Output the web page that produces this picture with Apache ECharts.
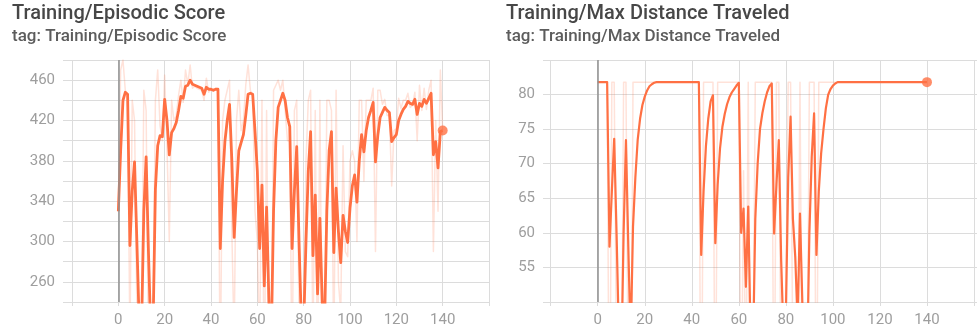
<!DOCTYPE html>
<html>
<head>
<meta charset="utf-8">
<script src="https://cdn.jsdelivr.net/npm/echarts@6/dist/echarts.min.js"></script>
<style>
  html, body { margin: 0; padding: 0; background: #ffffff; }
  #chart { width: 977px; height: 332px; }
</style>
</head>
<body>
<div id="chart"></div>
<script>
// Training steps 0..140 (one logged value per step)
const steps = Array.from({ length: 141 }, (_, i) => i);

// Training/Episodic Score — raw values per step
const scoreRaw = [
  330, 470, 480, 450, 445, 200, 440, 420, 230, 150,
  200, 450, 430, 180, 150, 220, 440, 470, 415, 400,
  465, 395, 300, 440, 420, 425, 445, 460, 438, 470,
  456, 475, 452, 454, 452, 451, 450, 440, 462, 448,
  451, 449, 452, 451, 160, 420, 440, 450, 460, 310,
  200, 420, 450, 410, 420, 455, 475, 450, 445, 330,
  300, 190, 440, 140, 430, 150, 130, 450, 455, 460,
  450, 460, 430, 400, 400, 160, 430, 440, 220, 130,
  200, 380, 440, 450, 190, 430, 150, 440, 170, 180,
  440, 440, 430, 180, 450, 260, 230, 395, 290, 285,
  380, 390, 380, 300, 440, 440, 360, 440, 440, 440,
  452, 290, 450, 450, 436, 441, 425, 425, 355, 410,
  412, 442, 432, 440, 440, 447, 433, 435, 448, 400,
  455, 430, 452, 431, 450, 460, 290, 420, 330, 470,
  410
];

// Training/Episodic Score — smoothed curve per step
const scoreSmooth = [
  330, 390, 440, 448, 446, 296, 350, 379, 300, 220,
  210, 330, 384, 290, 210, 215, 352, 395, 405, 404,
  441, 420, 386, 408, 412, 418, 430, 444, 442, 454,
  455, 460, 456, 455, 454, 453, 452, 446, 453, 451,
  451, 450, 451, 451, 293, 360, 399, 420, 436, 380,
  304, 350, 390, 398, 406, 425, 446, 447, 446, 409,
  370, 293, 356, 256, 334, 240, 200, 330, 400, 433,
  440, 447, 440, 423, 414, 293, 350, 394, 300, 220,
  215, 300, 370, 409, 286, 346, 248, 323, 240, 215,
  330, 390, 409, 289, 353, 310, 279, 326, 310, 299,
  333, 355, 366, 339, 380, 406, 389, 410, 423, 430,
  438, 379, 405, 423, 428, 433, 430, 428, 399, 403,
  406, 420, 426, 431, 434, 439, 437, 436, 441, 426,
  437, 434, 441, 437, 442, 447, 386, 399, 373, 409,
  410
];

// Training/Max Distance Traveled — raw values per step
const distRaw = [
  81.8, 81.8, 81.8, 81.8, 81.8, 22, 81.8, 81.8, 40, 20,
  30, 81.8, 81.8, 35, 20, 81.8, 81.8, 81.8, 81.8, 81.8,
  81.8, 81.8, 81.8, 81.8, 81.8, 81.8, 81.8, 81.8, 81.8, 81.8,
  81.8, 81.8, 81.8, 81.8, 81.8, 81.8, 81.8, 81.8, 81.8, 81.8,
  81.8, 81.8, 81.8, 81.8, 20, 81.8, 81.8, 81.8, 81.8, 81.8,
  26, 81.8, 81.8, 81.8, 81.8, 81.8, 81.8, 81.8, 81.8, 81.8,
  81.8, 28, 69, 35, 81.8, 18, 38, 81.8, 81.8, 81.8,
  81.8, 81.8, 81.8, 81.8, 81.8, 27, 81.8, 81.8, 30, 28,
  52, 81.8, 81.8, 40, 48, 32, 81.8, 32, 35, 34,
  81.8, 81.8, 81.8, 26, 81.8, 81.8, 81.8, 81.8, 81.8, 81.8,
  81.8, 81.8, 81.8, 81.8, 81.8, 81.8, 81.8, 81.8, 81.8, 81.8,
  81.8, 81.8, 81.8, 81.8, 81.8, 81.8, 81.8, 81.8, 81.8, 81.8,
  81.8, 81.8, 81.8, 81.8, 81.8, 81.8, 81.8, 81.8, 81.8, 81.8,
  81.8, 81.8, 81.8, 81.8, 81.8, 81.8, 81.8, 81.8, 81.8, 81.8,
  81.8
];

// Training/Max Distance Traveled — smoothed curve per step
const distSmooth = [
  81.8, 81.8, 81.8, 81.8, 81.8, 58.0, 66.0, 73.6, 60.0, 45.0,
  40.0, 60.0, 73.4, 58.0, 44.0, 60.9, 68.0, 73.5, 76.5, 78.5,
  79.7, 80.6, 81.2, 81.5, 81.7, 81.8, 81.8, 81.8, 81.8, 81.8,
  81.8, 81.8, 81.8, 81.8, 81.8, 81.8, 81.8, 81.8, 81.8, 81.8,
  81.8, 81.8, 81.8, 81.8, 56.8, 66.0, 72.5, 76.5, 79.0, 79.9,
  58.5, 67.0, 72.2, 75.3, 77.2, 78.6, 79.6, 80.3, 80.8, 81.3,
  81.7, 60.0, 63.5, 52.2, 63.8, 45.0, 42.0, 62.0, 70.0, 75.0,
  77.3, 79.0, 80.3, 81.2, 81.6, 59.9, 67.0, 73.4, 56.0, 45.0,
  48.0, 68.0, 76.8, 62.0, 56.5, 47.0, 62.8, 50.0, 44.0, 40.0,
  60.0, 71.0, 77.3, 56.8, 66.0, 71.5, 75.0, 78.0, 80.0, 80.8,
  81.3, 81.6, 81.8, 81.8, 81.8, 81.8, 81.8, 81.8, 81.8, 81.8,
  81.8, 81.8, 81.8, 81.8, 81.8, 81.8, 81.8, 81.8, 81.8, 81.8,
  81.8, 81.8, 81.8, 81.8, 81.8, 81.8, 81.8, 81.8, 81.8, 81.8,
  81.8, 81.8, 81.8, 81.8, 81.8, 81.8, 81.8, 81.8, 81.8, 81.8,
  81.8
];

// Axis tick values
const xTicks = [-20, 0, 20, 40, 60, 80, 100, 120, 140, 160];
const scoreTicks = [260, 300, 340, 380, 420, 460];
const distTicks = [55, 60, 65, 70, 75, 80];

const ORANGE = '#ff7043';
const RAW = 'rgba(255,112,67,0.2)';
const GRID = '#dcdcdc';
const LABEL = '#9e9e9e';
const FONT = 'Roboto';

const pairs = (vals) => vals.map((v, i) => [steps[i], v]);

const chart = echarts.init(document.getElementById('chart'), null, { renderer: 'canvas' });

// Each panel: a background grid (horizontal rules + y labels) and a data grid (x axis + lines)
const grids = [
  { left: 63, top: 60, width: 426, height: 242 },     // score background
  { left: 72, top: 60, width: 417, height: 242 },     // score data
  { left: 543, top: 60, right: 0, height: 242 },      // distance background
  { left: 550.7, top: 60, width: 434.5, height: 242 } // distance data
];

function bgX(gi) {
  return { gridIndex: gi, type: 'value', min: 0, max: 1, show: false };
}
function dataX(gi) {
  return {
    gridIndex: gi, type: 'value', min: xTicks[0], max: xTicks[xTicks.length - 1], interval: 20,
    axisLine: { show: false },
    axisTick: { show: true, length: 4, lineStyle: { color: GRID } },
    splitLine: { show: true, lineStyle: { color: GRID, width: 1 } },
    axisLabel: {
      color: LABEL, fontFamily: FONT, fontSize: 15, margin: 11,
      formatter: (v) => (v >= 0 && v <= 140 ? String(v) : '')
    }
  };
}
function bgY(gi, min, max, interval, labels) {
  return {
    gridIndex: gi, type: 'value', min, max, interval,
    axisLine: { show: false }, axisTick: { show: false },
    splitLine: { show: true, lineStyle: { color: GRID, width: 1 } },
    axisLabel: {
      color: LABEL, fontFamily: FONT, fontSize: 15, margin: 8,
      formatter: (v) => (labels.includes(v) ? String(v) : '')
    }
  };
}
function dataY(gi, min, max) {
  return {
    gridIndex: gi, type: 'value', min, max,
    axisLine: { show: false }, axisTick: { show: false },
    splitLine: { show: false }, axisLabel: { show: false }
  };
}

function lineSeries(xi, yi, data, color, width, z, zeroLine) {
  const s = {
    type: 'line', xAxisIndex: xi, yAxisIndex: yi, data: pairs(data),
    showSymbol: false, symbol: 'none', clip: true, z,
    lineStyle: { color, width, join: 'round' }, silent: true, animation: false
  };
  if (zeroLine) {
    s.markLine = {
      silent: true, symbol: 'none', animation: false,
      label: { show: false },
      lineStyle: { color: '#8f8f8f', width: 1.5, type: 'solid' },
      data: [{ xAxis: 0 }]
    };
  }
  return s;
}

function endDot(xi, yi, data) {
  const last = data.length - 1;
  return {
    type: 'scatter', xAxisIndex: xi, yAxisIndex: yi, z: 5,
    data: [[steps[last], data[last]]],
    symbol: 'circle', symbolSize: 10,
    itemStyle: { color: ORANGE }, silent: true, animation: false
  };
}

const titleStyle = { fontFamily: FONT, fontSize: 20, fontWeight: 500, color: '#474747' };
const tagStyle = { fontFamily: FONT, fontSize: 17, fontWeight: 500, color: '#5c5c5c' };

const option = {
  animation: false,
  backgroundColor: '#ffffff',
  textStyle: { fontFamily: FONT },
  title: [
    { text: 'Training/Episodic Score', left: 12, top: 4, padding: 0, textStyle: titleStyle },
    { text: 'tag: Training/Episodic Score', left: 12, top: 28, padding: 0, textStyle: tagStyle },
    { text: 'Training/Max Distance Traveled', left: 506, top: 4, padding: 0, textStyle: titleStyle },
    { text: 'tag: Training/Max Distance Traveled', left: 506, top: 28, padding: 0, textStyle: tagStyle }
  ],
  grid: grids,
  xAxis: [bgX(0), dataX(1), bgX(2), dataX(3)],
  yAxis: [
    bgY(0, 240, 480, 20, scoreTicks),
    dataY(1, 240, 480),
    bgY(2, 50, 85, 5, distTicks),
    dataY(3, 50, 85)
  ],
  series: [
    lineSeries(1, 1, scoreRaw, RAW, 1.5, 2, true),
    lineSeries(1, 1, scoreSmooth, ORANGE, 2.8, 3, false),
    endDot(1, 1, scoreSmooth),
    lineSeries(3, 3, distRaw, RAW, 1.5, 2, true),
    lineSeries(3, 3, distSmooth, ORANGE, 2.2, 3, false),
    endDot(3, 3, distSmooth)
  ]
};

chart.setOption(option);
</script>
</body>
</html>
